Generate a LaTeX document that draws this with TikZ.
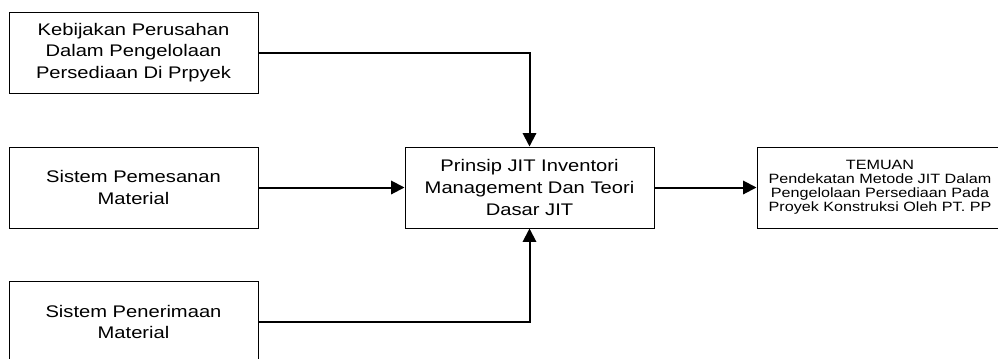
\documentclass[tikz,border=0pt]{standalone}
\usepackage{fontspec}
\setmainfont{Liberation Sans}
\newfontfamily\widefont[FakeStretch=1.2]{Liberation Sans}
\usepackage{tikz}
\usetikzlibrary{calc, arrows.meta, positioning}

\begin{document}
\begin{tikzpicture}[x=0.75pt, y=-0.75pt]
      % Styles
      \tikzset{inbox/.style={draw, rectangle, line width=0.75pt, minimum width=186.75pt, minimum height=60.75pt, align=center, inner sep=0pt, font=\widefont\fontsize{12.6}{16.3}\selectfont}}
      \tikzset{outbox/.style={inbox, minimum width=184.5pt, font=\widefont\fontsize{10.1}{10.4}\selectfont}}
      \tikzset{flow/.style={-{Triangle[length=10pt, width=10pt]}, line width=1.5pt}}

      \useasboundingbox (0,0) rectangle (998,358);
      \clip (0,0) rectangle (998,358);

      % --- The inputs, on the left ---
      \node[inbox] (kebijakan) at (133.5, 52.5) {Kebijakan Perusahan\\Dalam Pengelolaan\\Persediaan Di Prpyek};
      \node[inbox] (pemesanan) at (133.5, 187.5) {Sistem Pemesanan\\Material};
      \node[inbox] (penerimaan) at (133.5, 322) {Sistem Penerimaan\\Material};

      % --- The principle, in the middle ---
      \node[inbox] (prinsip) at (529.5, 187.5) {Prinsip JIT Inventori\\Management Dan Teori\\Dasar JIT};

      % --- The finding, on the right ---
      \node[outbox] (temuan) at (880, 187.5) {TEMUAN\\Pendekatan Metode JIT Dalam\\Pengelolaan Persediaan Pada\\Proyek Konstruksi Oleh PT. PP};

      % --- The Arrows ---
      \draw[flow] (kebijakan.east) -| (prinsip.north);
      \draw[flow] (pemesanan.east) -- (prinsip.west);
      \draw[flow] (penerimaan.east) -| (prinsip.south);
      \draw[flow] (prinsip.east) -- (temuan.west);

    \end{tikzpicture}
\end{document}
